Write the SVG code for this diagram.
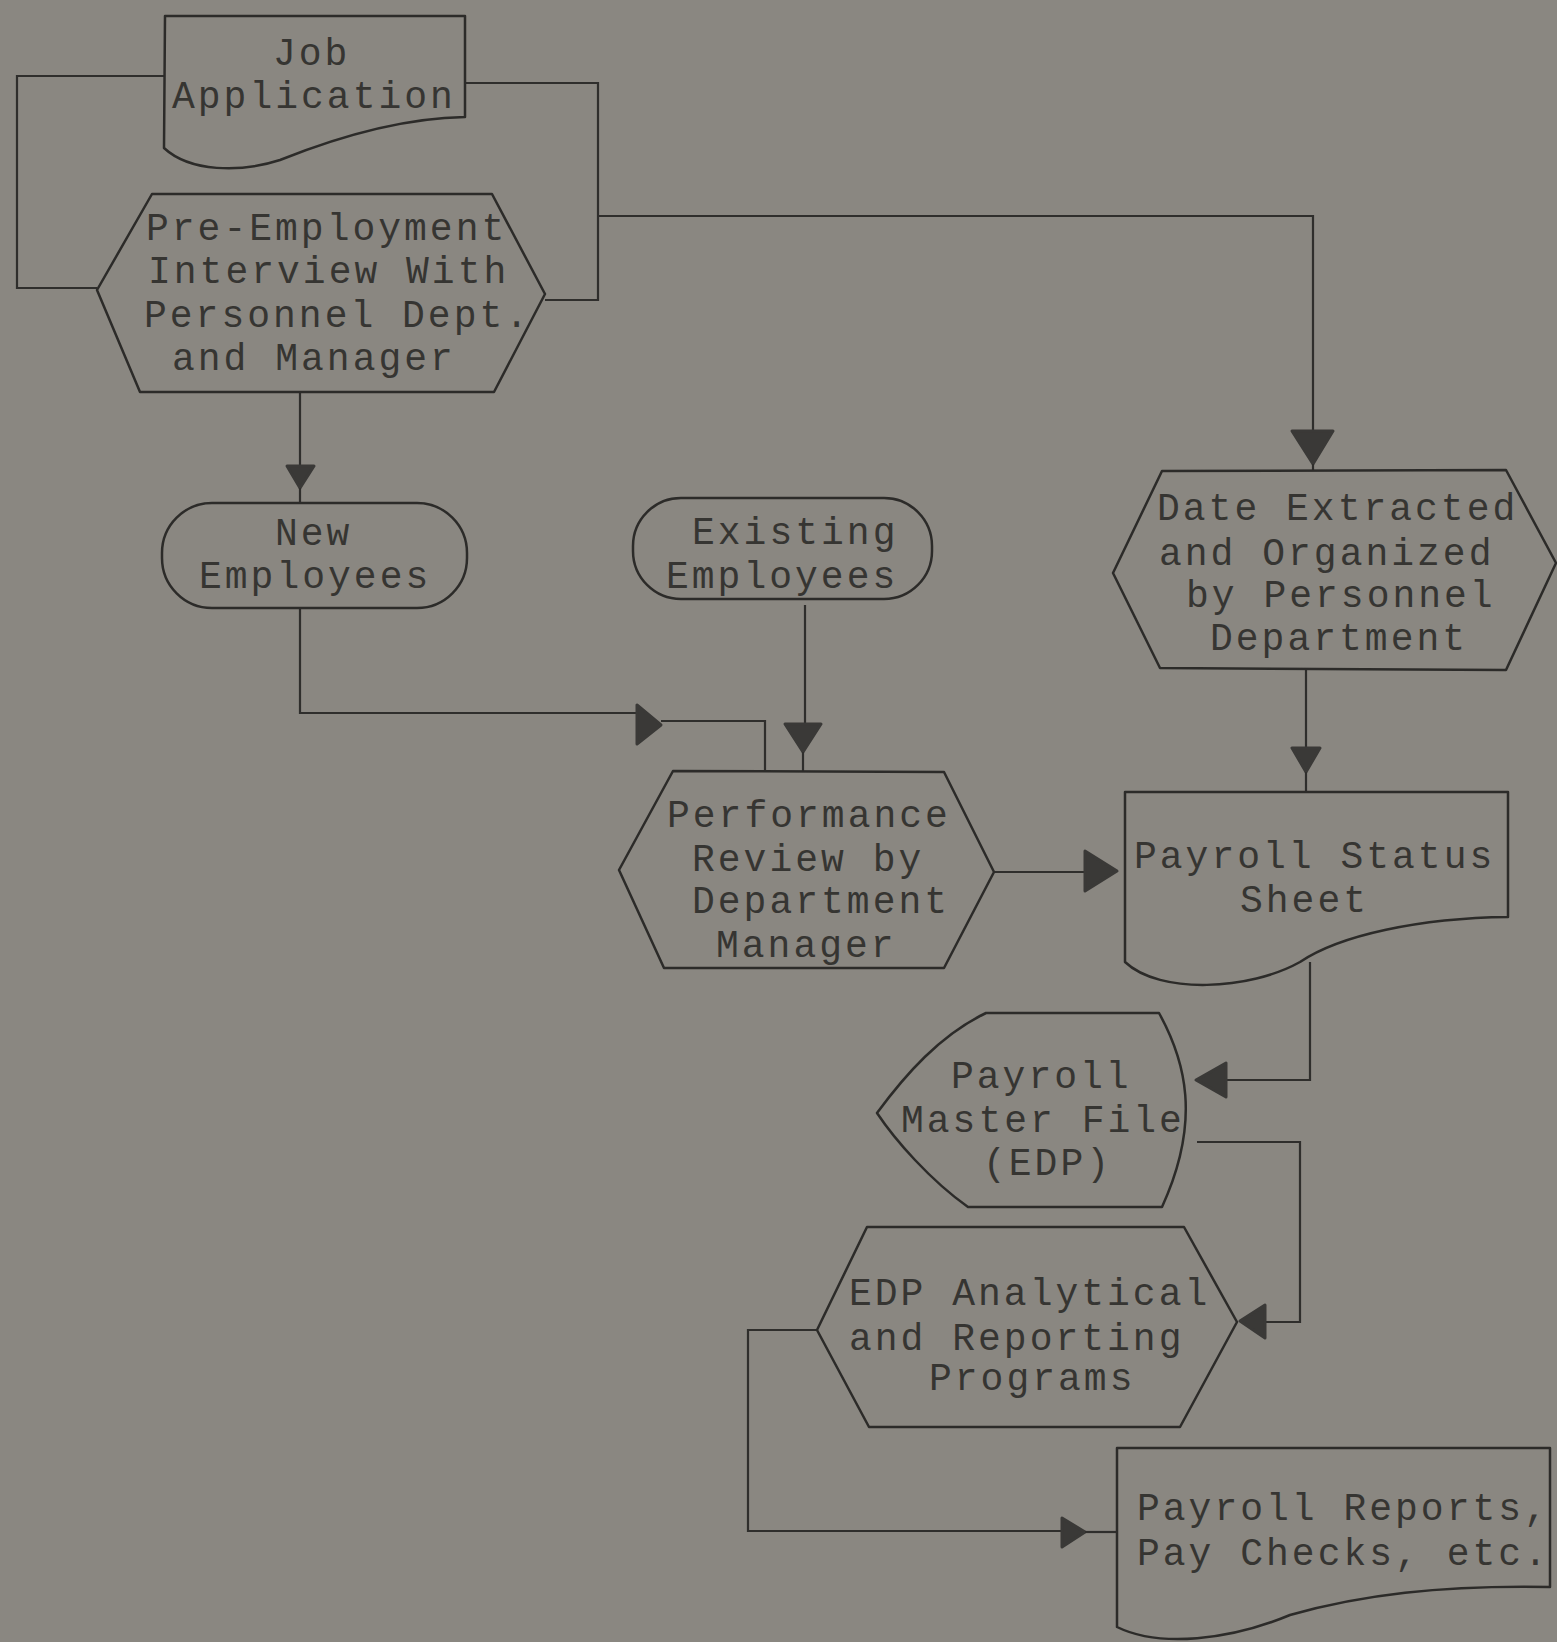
<svg xmlns="http://www.w3.org/2000/svg" width="1557" height="1642" viewBox="0 0 1557 1642">
  <style>
    .shape { fill: none; stroke: #2c2b29; stroke-width: 2.5; stroke-linejoin: round; }
    .wire { fill: none; stroke: #2f2e2c; stroke-width: 2.2; }
    .head { fill: #3a3937; stroke: #3a3937; stroke-width: 3; stroke-linejoin: round; }
    .label { font-family: "Liberation Mono", "DejaVu Sans Mono", monospace; font-size: 38px; letter-spacing: 3px; fill: #363532; }
  </style>
  <rect x="0" y="0" width="1557" height="1642" fill="#8a8781"/>

  <!-- connectors -->
  <g id="connectors">
    <!-- job application loops into the interview -->
    <path class="wire" d="M165,76 H17 V288 H97"/>
    <path class="wire" d="M465,83 H598 V300 H545"/>
    <!-- branch to data extraction -->
    <path class="wire" d="M598,216 H1313 V431"/>
    <polygon class="head" points="1292,431 1333,431 1313,464"/>
    <path class="wire" d="M1313,464 V471"/>
    <!-- interview to new employees -->
    <path class="wire" d="M300,392 V466"/>
    <polygon class="head" points="287,466 314,466 300,488"/>
    <path class="wire" d="M300,488 V503"/>
    <!-- new employees to performance review -->
    <path class="wire" d="M300,608 V713 H636"/>
    <polygon class="head" points="637,705 637,744 661,725"/>
    <path class="wire" d="M661,721 H765 V771"/>
    <!-- existing employees to performance review -->
    <path class="wire" d="M805,605 V724"/>
    <polygon class="head" points="785,724 821,724 803,752"/>
    <path class="wire" d="M803,752 V771"/>
    <!-- performance review to payroll status sheet -->
    <path class="wire" d="M994,872 H1085"/>
    <polygon class="head" points="1085,851 1085,891 1117,871"/>
    <!-- data extraction to payroll status sheet -->
    <path class="wire" d="M1306,668 V748"/>
    <polygon class="head" points="1292,748 1320,748 1306,772"/>
    <path class="wire" d="M1306,772 V792"/>
    <!-- payroll status sheet to master file -->
    <path class="wire" d="M1310,962 V1080 H1226"/>
    <polygon class="head" points="1226,1063 1226,1097 1196,1080"/>
    <!-- master file to analytical programs -->
    <path class="wire" d="M1197,1142 H1300 V1322 H1265"/>
    <polygon class="head" points="1265,1305 1265,1338 1240,1321"/>
    <!-- programs to reports -->
    <path class="wire" d="M817,1330 H748 V1531 H1062"/>
    <polygon class="head" points="1062,1518 1062,1547 1085,1532"/>
    <path class="wire" d="M1085,1532 H1117"/>
  </g>

  <g id="job-application">
    <path class="shape" d="M165,16 H465 V117 C400,118 330,140 280,160 C240,173 190,172 164,148 Z"/>
    <text class="label" x="273" y="65">Job</text>
    <text class="label" x="172" y="108">Application</text>
  </g>

  <g id="pre-employment-interview">
    <polygon class="shape" points="152,194 492,194 545,294 494,392 140,392 97,290"/>
    <text class="label" x="146" y="240">Pre-Employment</text>
    <text class="label" x="148" y="283">Interview With</text>
    <text class="label" x="144" y="327">Personnel Dept.</text>
    <text class="label" x="172" y="370">and Manager</text>
  </g>

  <g id="new-employees">
    <rect class="shape" x="162" y="503" width="305" height="105" rx="50" ry="50"/>
    <text class="label" x="275" y="545">New</text>
    <text class="label" x="199" y="588">Employees</text>
  </g>

  <g id="existing-employees">
    <rect class="shape" x="633" y="498" width="299" height="101" rx="48" ry="48"/>
    <text class="label" x="692" y="544">Existing</text>
    <text class="label" x="666" y="588">Employees</text>
  </g>

  <g id="data-extraction">
    <polygon class="shape" points="1162,471 1506,470 1556,563 1506,670 1160,668 1113,573"/>
    <text class="label" x="1157" y="520">Date Extracted</text>
    <text class="label" x="1159" y="565">and Organized</text>
    <text class="label" x="1186" y="607">by Personnel</text>
    <text class="label" x="1210" y="650">Department</text>
  </g>

  <g id="performance-review">
    <polygon class="shape" points="673,771 944,772 994,872 944,968 664,968 619,870"/>
    <text class="label" x="667" y="827">Performance</text>
    <text class="label" x="692" y="871">Review by</text>
    <text class="label" x="692" y="913">Department</text>
    <text class="label" x="716" y="957">Manager</text>
  </g>

  <g id="payroll-status-sheet">
    <path class="shape" d="M1125,792 H1508 V917 C1420,918 1340,935 1300,962 C1250,990 1160,995 1125,962 Z"/>
    <text class="label" x="1134" y="868">Payroll Status</text>
    <text class="label" x="1240" y="912">Sheet</text>
  </g>

  <g id="payroll-master-file">
    <path class="shape" d="M986,1013 H1159 C1185,1060 1202,1120 1162,1207 H968 C930,1180 895,1140 877,1113 C905,1075 940,1035 986,1013 Z"/>
    <text class="label" x="951" y="1088">Payroll</text>
    <text class="label" x="901" y="1132">Master File</text>
    <text class="label" x="983" y="1175">(EDP)</text>
  </g>

  <g id="edp-programs">
    <polygon class="shape" points="867,1227 1184,1227 1237,1322 1180,1427 869,1427 817,1330"/>
    <text class="label" x="849" y="1305">EDP Analytical</text>
    <text class="label" x="849" y="1350">and Reporting</text>
    <text class="label" x="929" y="1390">Programs</text>
  </g>

  <g id="payroll-reports">
    <path class="shape" d="M1117,1448 H1550 V1587 C1440,1585 1360,1595 1290,1615 C1230,1640 1160,1648 1117,1627 Z"/>
    <text class="label" x="1137" y="1520">Payroll Reports,</text>
    <text class="label" x="1137" y="1565">Pay Checks, etc.</text>
  </g>
</svg>
